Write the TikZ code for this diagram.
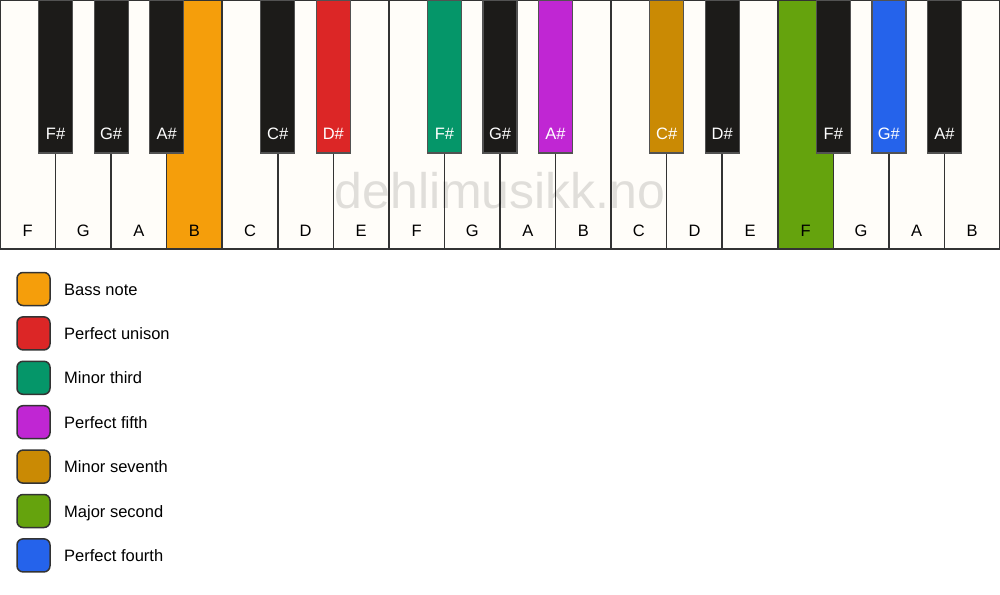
\documentclass[tikz,border=0pt]{standalone}
\usepackage{fontspec}
\setmainfont{Liberation Sans}
\definecolor{wk}{HTML}{FFFDF9}
\definecolor{bk}{HTML}{1C1B19}
\definecolor{cbass}{HTML}{F59E0B}
\definecolor{cuni}{HTML}{DC2626}
\definecolor{cmin3}{HTML}{059669}
\definecolor{cp5}{HTML}{C026D3}
\definecolor{cmin7}{HTML}{CA8A04}
\definecolor{cmaj2}{HTML}{65A30D}
\definecolor{cp4}{HTML}{2563EB}
\definecolor{edge}{HTML}{333333}
\begin{document}
\begin{tikzpicture}[x=1pt,y=-1pt,
  whitekey/.style={draw=edge,line width=1.5pt,minimum width=55.556pt,minimum height=249pt,inner sep=0pt,outer sep=0pt},
  blackkey/.style={draw=edge!85,line width=1.2pt,minimum width=34pt,minimum height=153pt,inner sep=0pt,outer sep=0pt},
  wlabel/.style={font=\fontsize{16.5}{18}\selectfont,text=black,anchor=base,inner sep=0pt},
  blabel/.style={font=\fontsize{16.5}{18}\selectfont,text=white,anchor=base,inner sep=0pt},
  legbox/.style={draw=edge,line width=1.5pt,rounded corners=6pt,minimum width=33pt,minimum height=33pt,inner sep=0pt},
  legtext/.style={font=\fontsize{16.5}{18}\selectfont,anchor=base west,inner sep=0pt}]
\useasboundingbox (0,0) rectangle (1000,594);
\fill[white] (0,0) rectangle (1000,594);
% white keys
\foreach \n/\c [count=\i from 0] in {F/wk,G/wk,A/wk,B/cbass,C/wk,D/wk,E/wk,F/wk,G/wk,A/wk,B/wk,C/wk,D/wk,E/wk,F/cmaj2,G/wk,A/wk,B/wk}{
  \node[whitekey,fill=\c] (w\i) at ({\i*55.556+27.778},124.5) {};
  \node[wlabel] (wl\i) at ({\i*55.556+27.778},236) {\n};
}
% watermark
\node[font=\fontsize{50}{54}\selectfont,text=black,text opacity=0.12] (wm) at (500,191) {dehlimusikk.no};
% black keys
\foreach \p/\n/\c in {1/F\#/bk,2/G\#/bk,3/A\#/bk,5/C\#/bk,6/D\#/cuni,8/F\#/cmin3,9/G\#/bk,10/A\#/cp5,12/C\#/cmin7,13/D\#/bk,15/F\#/bk,16/G\#/cp4,17/A\#/bk}{
  \node[blackkey,fill=\c] (b\p) at ({\p*55.556},76.5) {};
  \node[blabel] (bl\p) at ({\p*55.556},139) {\n};
}
% legend
\foreach \c/\t [count=\i from 0] in {cbass/Bass note,cuni/Perfect unison,cmin3/Minor third,cp5/Perfect fifth,cmin7/Minor seventh,cmaj2/Major second,cp4/Perfect fourth}{
  \node[legbox,fill=\c] (lb\i) at (33.5,{289+\i*44.4}) {};
  \node[legtext] (lt\i) at (64,{295+\i*44.4}) {\t};
}
\end{tikzpicture}
\end{document}
